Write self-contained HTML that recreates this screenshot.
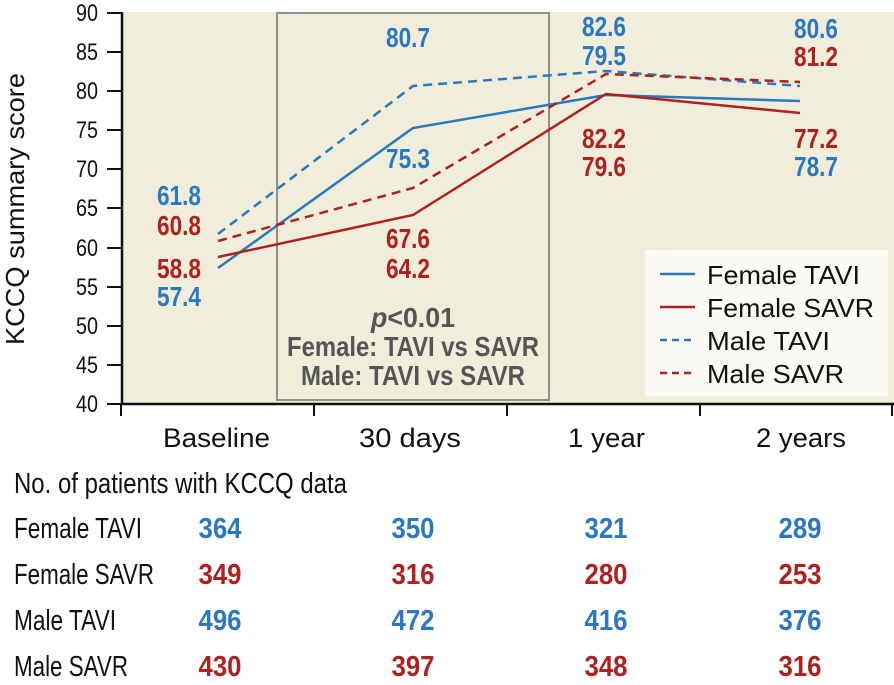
<!DOCTYPE html>
<html><head><meta charset="utf-8"><style>
html,body{margin:0;padding:0;background:#fff;}
svg{display:block;}
text{font-family:"Liberation Sans",sans-serif;}
</style></head><body>
<svg width="894" height="685" viewBox="0 0 894 685" xmlns="http://www.w3.org/2000/svg">
<rect x="122" y="12" width="772" height="392" fill="#f1eddb"/>
<rect x="277" y="13" width="272" height="387" fill="none" stroke="#8f8f8f" stroke-width="2"/>
<line x1="122" y1="12" x2="122" y2="404" stroke="#111" stroke-width="2.5"/>
<line x1="121" y1="404" x2="894" y2="404" stroke="#111" stroke-width="2.5"/>
<g stroke="#111" stroke-width="2">
<line x1="107" y1="13" x2="122" y2="13"/><line x1="107" y1="52" x2="122" y2="52"/>
<line x1="107" y1="91" x2="122" y2="91"/><line x1="107" y1="130" x2="122" y2="130"/>
<line x1="107" y1="169" x2="122" y2="169"/><line x1="107" y1="208" x2="122" y2="208"/>
<line x1="107" y1="248" x2="122" y2="248"/><line x1="107" y1="287" x2="122" y2="287"/>
<line x1="107" y1="326" x2="122" y2="326"/><line x1="107" y1="365" x2="122" y2="365"/>
<line x1="107" y1="404" x2="122" y2="404"/>
<line x1="121" y1="404" x2="121" y2="416"/><line x1="314" y1="404" x2="314" y2="416"/>
<line x1="507" y1="404" x2="507" y2="416"/><line x1="700" y1="404" x2="700" y2="416"/>
<line x1="892" y1="404" x2="892" y2="416"/>
</g>
<g font-size="24" fill="#111" text-anchor="end">
<text x="98" y="21" textLength="22" lengthAdjust="spacingAndGlyphs">90</text>
<text x="98" y="60" textLength="22" lengthAdjust="spacingAndGlyphs">85</text>
<text x="98" y="99" textLength="22" lengthAdjust="spacingAndGlyphs">80</text>
<text x="98" y="138" textLength="22" lengthAdjust="spacingAndGlyphs">75</text>
<text x="98" y="177" textLength="22" lengthAdjust="spacingAndGlyphs">70</text>
<text x="98" y="216" textLength="22" lengthAdjust="spacingAndGlyphs">65</text>
<text x="98" y="256" textLength="22" lengthAdjust="spacingAndGlyphs">60</text>
<text x="98" y="295" textLength="22" lengthAdjust="spacingAndGlyphs">55</text>
<text x="98" y="334" textLength="22" lengthAdjust="spacingAndGlyphs">50</text>
<text x="98" y="373" textLength="22" lengthAdjust="spacingAndGlyphs">45</text>
<text x="98" y="412" textLength="22" lengthAdjust="spacingAndGlyphs">40</text>
</g>
<text transform="translate(24,209) rotate(-90)" font-size="26" text-anchor="middle" fill="#111" textLength="272" lengthAdjust="spacingAndGlyphs">KCCQ summary score</text>
<g font-size="27" fill="#111">
<text x="163" y="447" textLength="107" lengthAdjust="spacingAndGlyphs">Baseline</text>
<text x="359" y="447" textLength="102" lengthAdjust="spacingAndGlyphs">30 days</text>
<text x="568" y="447" textLength="77" lengthAdjust="spacingAndGlyphs">1 year</text>
<text x="756" y="447" textLength="90" lengthAdjust="spacingAndGlyphs">2 years</text>
</g>
<g fill="none" stroke-width="2.5">
<polyline stroke="#2a78c2" points="218,268 413,128 606,95 800,101"/>
<polyline stroke="#b0211e" points="218,257 413,215 606,94 800,113"/>
<polyline stroke="#2a78c2" stroke-dasharray="9,6" points="218,234 413,86 606,71 800,86"/>
<polyline stroke="#b0211e" stroke-dasharray="9,6" points="218,241 413,188 606,74 800,82"/>
</g>
<g font-size="28" font-weight="bold" text-anchor="middle" lengthAdjust="spacingAndGlyphs">
<text x="179" y="205" fill="#2a78c2" textLength="44" lengthAdjust="spacingAndGlyphs">61.8</text>
<text x="179" y="235" fill="#b0211e" textLength="44" lengthAdjust="spacingAndGlyphs">60.8</text>
<text x="179" y="278" fill="#b0211e" textLength="44" lengthAdjust="spacingAndGlyphs">58.8</text>
<text x="179" y="306" fill="#2a78c2" textLength="44" lengthAdjust="spacingAndGlyphs">57.4</text>
<text x="408" y="47" fill="#2a78c2" textLength="44" lengthAdjust="spacingAndGlyphs">80.7</text>
<text x="408" y="168" fill="#2a78c2" textLength="44" lengthAdjust="spacingAndGlyphs">75.3</text>
<text x="408" y="248" fill="#b0211e" textLength="44" lengthAdjust="spacingAndGlyphs">67.6</text>
<text x="408" y="278" fill="#b0211e" textLength="44" lengthAdjust="spacingAndGlyphs">64.2</text>
<text x="604" y="36" fill="#2a78c2" textLength="44" lengthAdjust="spacingAndGlyphs">82.6</text>
<text x="604" y="65" fill="#2a78c2" textLength="44" lengthAdjust="spacingAndGlyphs">79.5</text>
<text x="604" y="148" fill="#b0211e" textLength="44" lengthAdjust="spacingAndGlyphs">82.2</text>
<text x="604" y="176" fill="#b0211e" textLength="44" lengthAdjust="spacingAndGlyphs">79.6</text>
<text x="816" y="38" fill="#2a78c2" textLength="44" lengthAdjust="spacingAndGlyphs">80.6</text>
<text x="816" y="66" fill="#b0211e" textLength="44" lengthAdjust="spacingAndGlyphs">81.2</text>
<text x="816" y="148" fill="#b0211e" textLength="44" lengthAdjust="spacingAndGlyphs">77.2</text>
<text x="816" y="176" fill="#2a78c2" textLength="44" lengthAdjust="spacingAndGlyphs">78.7</text>
</g>
<g font-size="28" font-weight="bold" fill="#555" text-anchor="middle">
<text x="413" y="327" textLength="84" lengthAdjust="spacingAndGlyphs"><tspan font-style="italic">p</tspan>&lt;0.01</text>
<text x="413" y="356" textLength="252" lengthAdjust="spacingAndGlyphs">Female: TAVI vs SAVR</text>
<text x="413" y="385" textLength="224" lengthAdjust="spacingAndGlyphs">Male: TAVI vs SAVR</text>
</g>
<rect x="645" y="250" width="243" height="146" fill="#fbfaf5"/>
<g stroke-width="2.5">
<line x1="660" y1="274" x2="695" y2="274" stroke="#2a78c2"/>
<line x1="660" y1="307" x2="695" y2="307" stroke="#b0211e"/>
<line x1="660" y1="340" x2="695" y2="340" stroke="#2a78c2" stroke-dasharray="7,5"/>
<line x1="660" y1="373" x2="695" y2="373" stroke="#b0211e" stroke-dasharray="7,5"/>
</g>
<g font-size="26" fill="#111">
<text x="707" y="284" textLength="153" lengthAdjust="spacingAndGlyphs">Female TAVI</text>
<text x="707" y="317" textLength="167" lengthAdjust="spacingAndGlyphs">Female SAVR</text>
<text x="707" y="350" textLength="123" lengthAdjust="spacingAndGlyphs">Male TAVI</text>
<text x="707" y="383" textLength="137" lengthAdjust="spacingAndGlyphs">Male SAVR</text>
</g>
<g font-size="29" fill="#111">
<text x="14" y="493" textLength="333" lengthAdjust="spacingAndGlyphs">No. of patients with KCCQ data</text>
<text x="14" y="538" textLength="128" lengthAdjust="spacingAndGlyphs">Female TAVI</text>
<text x="14" y="584" textLength="140" lengthAdjust="spacingAndGlyphs">Female SAVR</text>
<text x="14" y="630" textLength="102" lengthAdjust="spacingAndGlyphs">Male TAVI</text>
<text x="14" y="676" textLength="114" lengthAdjust="spacingAndGlyphs">Male SAVR</text>
</g>
<g font-size="29" font-weight="bold" text-anchor="middle">
<g fill="#2a78c2"><text x="220" y="538" textLength="43" lengthAdjust="spacingAndGlyphs">364</text><text x="413" y="538" textLength="43" lengthAdjust="spacingAndGlyphs">350</text><text x="606" y="538" textLength="43" lengthAdjust="spacingAndGlyphs">321</text><text x="800" y="538" textLength="43" lengthAdjust="spacingAndGlyphs">289</text></g>
<g fill="#b0211e"><text x="220" y="584" textLength="43" lengthAdjust="spacingAndGlyphs">349</text><text x="413" y="584" textLength="43" lengthAdjust="spacingAndGlyphs">316</text><text x="606" y="584" textLength="43" lengthAdjust="spacingAndGlyphs">280</text><text x="800" y="584" textLength="43" lengthAdjust="spacingAndGlyphs">253</text></g>
<g fill="#2a78c2"><text x="220" y="630" textLength="43" lengthAdjust="spacingAndGlyphs">496</text><text x="413" y="630" textLength="43" lengthAdjust="spacingAndGlyphs">472</text><text x="606" y="630" textLength="43" lengthAdjust="spacingAndGlyphs">416</text><text x="800" y="630" textLength="43" lengthAdjust="spacingAndGlyphs">376</text></g>
<g fill="#b0211e"><text x="220" y="676" textLength="43" lengthAdjust="spacingAndGlyphs">430</text><text x="413" y="676" textLength="43" lengthAdjust="spacingAndGlyphs">397</text><text x="606" y="676" textLength="43" lengthAdjust="spacingAndGlyphs">348</text><text x="800" y="676" textLength="43" lengthAdjust="spacingAndGlyphs">316</text></g>
</g>
</svg>
</body></html>
